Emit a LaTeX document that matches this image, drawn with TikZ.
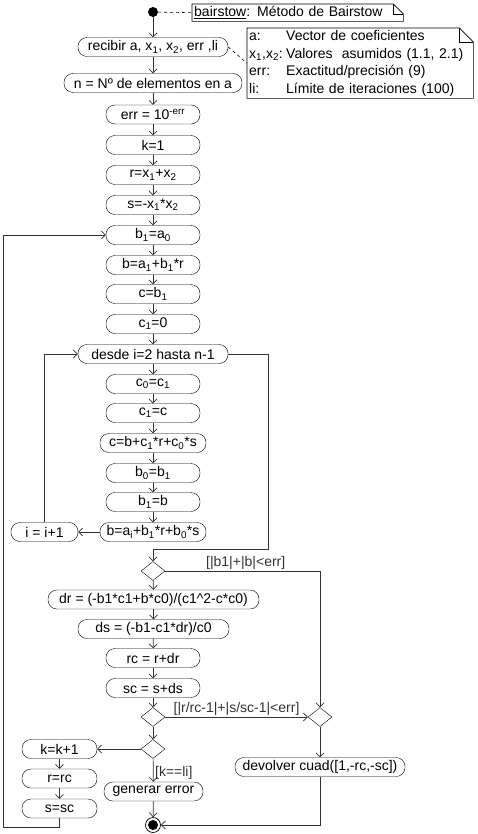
\documentclass[tikz,border=0pt]{standalone}
\usepackage{fontspec}
\setmainfont{Liberation Sans}
\usetikzlibrary{arrows.meta,shapes.geometric,positioning,calc}
\newcommand{\flowfont}{\fontsize{14}{17.5}\selectfont}
\newcommand{\sub}[1]{\textsubscript{#1}}

\begin{document}
\begin{tikzpicture}[x=1pt, y=-1pt,
    act/.style={draw, rounded corners=9pt, minimum width=94pt, minimum height=19pt, inner sep=1pt, align=center, font=\flowfont, fill=white},
    dec/.style={draw, diamond, minimum width=24pt, minimum height=19pt, inner sep=0pt, fill=white},
    arr/.style={-{Straight Barb[length=4pt,width=8pt]}, line width=0.7pt, black!80},
    lbl/.style={font=\flowfont, inner sep=1.5pt},
    note/.style={anchor=north west, inner xsep=2pt, inner ysep=0pt, align=left, font=\flowfont},
    noteline/.style={draw, line width=0.6pt}
]
\useasboundingbox (0,0) rectangle (477,834);

% notas
\node[note, text width=207pt, minimum height=17pt] (title) at (192,4) {\underline{bairstow}: Método de Bairstow};
\draw[noteline] (title.north west) -- ([xshift=-10pt]title.north east) -- ([yshift=-10pt]title.north east) -- (title.south east) -- (title.south west) -- cycle;
\draw[noteline] ([xshift=-10pt]title.north east) |- ([yshift=-10pt]title.north east);
\node[note, text width=222pt, minimum height=70pt] (args) at (247,28) {%
  \makebox[37pt][l]{a:}Vector de coeficientes\\
  \makebox[37pt][l]{x\sub{1},x\sub{2}:}Valores\ \ asumidos (1.1, 2.1)\\
  \makebox[37pt][l]{err:}Exactitud/precisión (9)\\
  \makebox[37pt][l]{li:}Límite de iteraciones (100)};
\draw[noteline] (args.north west) -- ([xshift=-14pt]args.north east) -- ([yshift=-14pt]args.north east) -- (args.south east) -- (args.south west) -- cycle;
\draw[noteline] ([xshift=-14pt]args.north east) |- ([yshift=-14pt]args.north east);

% inicio
\node[circle, fill=black, minimum size=10pt, inner sep=0pt] (start) at (153,12) {};
\node[act, minimum width=150pt] (recv) at (153,47) {recibir a, x\sub{1}, x\sub{2}, err ,li};
\node[act, minimum width=178pt] (nelem) at (153,83) {n = Nº de elementos en a};
\node[act] (errv) at (153,114.5) {err = 10\textsuperscript{-err}};
\node[act] (kone) at (153,145) {k=1};
\node[act] (rini) at (153,175) {r=x\sub{1}+x\sub{2}};
\node[act] (sini) at (153,205) {s=-x\sub{1}*x\sub{2}};
\node[act] (bone) at (153,235) {b\sub{1}=a\sub{0}};
\node[act] (bb) at (153,265) {b=a\sub{1}+b\sub{1}*r};
\node[act] (cb) at (153,294) {c=b\sub{1}};
\node[act] (cone) at (153,324) {c\sub{1}=0};

% bucle interno
\node[act, minimum width=150pt] (loop) at (153,354) {desde i=2 hasta n-1};
\node[act] (czero) at (153,384) {c\sub{0}=c\sub{1}};
\node[act] (cc) at (153,413) {c\sub{1}=c};
\node[act, minimum width=106pt] (cnew) at (153,443) {c=b+c\sub{1}*r+c\sub{0}*s};
\node[act] (bzero) at (153,473) {b\sub{0}=b\sub{1}};
\node[act] (bonb) at (153,502) {b\sub{1}=b};
\node[act, minimum width=106pt] (bnew) at (153,532) {b=a\sub{i}+b\sub{1}*r+b\sub{0}*s};
\node[act, minimum width=67pt] (inc) at (44.5,532) {i = i+1};

% correcciones
\node[dec] (dA) at (153,571) {};
\node[act, minimum width=211pt] (dr) at (153.5,599.5) {dr = (-b1*c1+b*c0)/(c1\textasciicircum 2-c*c0)};
\node[act, minimum width=151pt] (ds) at (153.5,629) {ds = (-b1-c1*dr)/c0};
\node[act] (rc) at (153,658) {rc = r+dr};
\node[act] (sc) at (153,688) {sc = s+ds};
\node[dec] (dB) at (153,717) {};
\node[dec] (dC) at (320,717) {};
\node[dec] (dD) at (153,749) {};
\node[act, minimum width=75pt] (kk) at (59.5,749) {k=k+1};
\node[act, minimum width=75pt] (rr) at (59.5,778.5) {r=rc};
\node[act, minimum width=75pt] (ss) at (59.5,808.5) {s=sc};
\node[act, minimum width=99pt] (gen) at (153.5,791.5) {generar error};
\node[act, minimum width=170pt] (dev) at (320,767) {devolver cuad([1,-rc,-sc])};

% fin
\node[circle, draw, line width=0.7pt, minimum size=15pt, inner sep=0pt] (fin) at (153,825) {};
\fill (fin) circle (5pt);

\coordinate (lpr) at (268,549);
\coordinate (lpl) at (3,827);

\draw[dashed, line width=0.6pt] (start) -- (title.west);
\draw[dashed, line width=0.6pt] (recv.east) -- (args.west);

\draw[arr] (start) -- (recv);
\draw[arr] (recv) -- (nelem);
\draw[arr] (nelem) -- (errv);
\draw[arr] (errv) -- (kone);
\draw[arr] (kone) -- (rini);
\draw[arr] (rini) -- (sini);
\draw[arr] (sini) -- (bone);
\draw[arr] (bone) -- (bb);
\draw[arr] (bb) -- (cb);
\draw[arr] (cb) -- (cone);
\draw[arr] (cone) -- (loop);
\draw[arr] (loop) -- (czero);
\draw[arr] (czero) -- (cc);
\draw[arr] (cc) -- (cnew);
\draw[arr] (cnew) -- (bzero);
\draw[arr] (bzero) -- (bonb);
\draw[arr] (bonb) -- (bnew);
\draw[arr] (bnew) -- (inc);
\draw[arr] (inc.north) |- (loop.west);
\draw[arr] (loop.east) -| (lpr) -| (dA.north);

\draw[arr] (dA) -- (dr);
\draw[arr] (dA.east) -| node[lbl, above, pos=0.26] {[|b1|+|b|<err]} (dC.north);
\draw[arr] (dr) -- (ds);
\draw[arr] (ds) -- (rc);
\draw[arr] (rc) -- (sc);
\draw[arr] (sc) -- (dB);
\draw[arr] (dB) -- node[lbl, above] {[|r/rc-1|+|s/sc-1|<err]} (dC);
\draw[arr] (dB) -- (dD);
\draw[arr] (dD) -- (kk);
\draw[arr] (dD) -- node[lbl, right, pos=0.6] {[k==li]} (gen);
\draw[arr] (kk) -- (rr);
\draw[arr] (rr) -- (ss);
\draw[arr] (ss.south) |- (lpl) |- (bone.west);
\draw[arr] (dC) -- (dev);
\draw[arr] (gen) -- (fin);
\draw[arr] (dev.south) |- (fin.east);
\end{tikzpicture}
\end{document}
